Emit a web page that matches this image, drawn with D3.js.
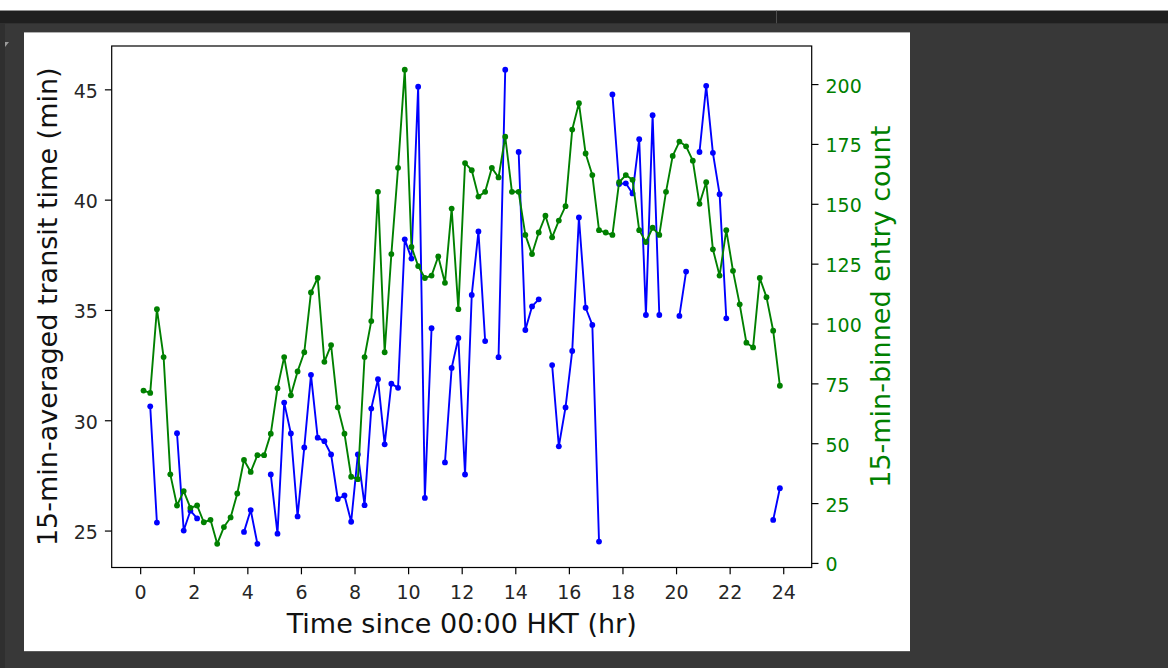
<!DOCTYPE html>
<html><head><meta charset="utf-8">
<script src="https://cdn.jsdelivr.net/npm/d3@7"></script>
<style>html,body{margin:0;padding:0;background:#383838;overflow:hidden}</style>
</head><body>
<svg id="c" width="1168" height="668"></svg>
<script>
// ---- data (15-min bins, bin centres in hours) ----
const hours = [0.125,0.375,0.625,0.875,1.125,1.375,1.625,1.875,2.125,2.375,2.625,2.875,
3.125,3.375,3.625,3.875,4.125,4.375,4.625,4.875,5.125,5.375,5.625,5.875,
6.125,6.375,6.625,6.875,7.125,7.375,7.625,7.875,8.125,8.375,8.625,8.875,
9.125,9.375,9.625,9.875,10.125,10.375,10.625,10.875,11.125,11.375,11.625,11.875,
12.125,12.375,12.625,12.875,13.125,13.375,13.625,13.875,14.125,14.375,14.625,14.875,
15.125,15.375,15.625,15.875,16.125,16.375,16.625,16.875,17.125,17.375,17.625,17.875,
18.125,18.375,18.625,18.875,19.125,19.375,19.625,19.875,20.125,20.375,20.625,20.875,
21.125,21.375,21.625,21.875,22.125,22.375,22.625,22.875,23.125,23.375,23.625,23.875];

const transitTime = [null,30.63,25.36,null,null,29.41,25.0,25.9,25.55,null,null,null,
null,null,null,24.94,25.93,24.4,null,27.54,24.86,30.8,29.4,25.64,
28.77,32.06,29.21,29.05,28.45,26.43,26.59,25.4,28.45,26.15,30.53,31.86,
28.91,31.66,31.47,38.2,37.33,45.12,26.48,34.17,null,28.09,32.37,33.73,
27.54,35.68,38.56,33.59,null,32.86,45.89,null,42.16,34.09,35.16,35.48,
null,32.5,28.82,30.58,33.14,39.19,35.1,34.32,24.5,null,44.77,40.71,
40.74,40.28,42.74,34.77,43.83,34.77,null,null,34.73,36.74,null,42.16,
45.16,42.12,40.25,34.62,null,null,null,null,null,null,25.48,26.92];

const entryCount = [72,71,106,86,37,24,30,23,24,17,18,8,
15,19,29,43,38,45,45,54,73,86,70,80,
88,113,119,84,91,65,54,36,35,86,101,155,
88,129,165,206,132,124,119,120,128,117,148,106,
167,164,153,155,165,161,178,155,155,137,129,138,
145,136,143,149,181,192,171,162,139,138,137,159,
162,160,139,134,140,137,155,170,176,174,168,150,
159,131,120,139,122,108,92,90,119,111,97,74];

const xTicks = [0,2,4,6,8,10,12,14,16,18,20,22,24];
const leftTicks = [25,30,35,40,45];
const rightTicks = [0,25,50,75,100,125,150,175,200];

const xLabel = "Time since 00:00 HKT (hr)";
const leftLabel = "15-min-averaged transit time (min)";
const rightLabel = "15-min-binned entry count";

// ---- page chrome ----
const svg = d3.select('#c');
svg.append('rect').attr('x',0).attr('y',0).attr('width',1168).attr('height',668).attr('fill','#383838');
svg.append('rect').attr('x',0).attr('y',0).attr('width',1168).attr('height',10.7).attr('fill','#ffffff');
svg.append('rect').attr('x',0).attr('y',10.7).attr('width',1168).attr('height',12.6).attr('fill','#1f1f1f');
svg.append('rect').attr('x',776).attr('y',10.7).attr('width',1).attr('height',12.6).attr('fill','#4e4e4e');
svg.append('rect').attr('x',0).attr('y',23.3).attr('width',5).attr('height',645).attr('fill','#2f2f2f');
svg.append('path').attr('d','M5,42 L9,42 L5,47 Z').attr('fill','#9a9a9a');
svg.append('rect').attr('x',24).attr('y',32.4).attr('width',886).attr('height',618.6).attr('fill','#ffffff');
svg.append('rect').attr('x',24).attr('y',651).attr('width',886).attr('height',1).attr('fill','#5c5c5c');

// ---- axes geometry ----
const L = 111.7, R = 811.7, T = 46, B = 567.5;
const font = 'DejaVu Sans, Verdana, sans-serif';
const tickFs = 19, labFs = 27;

const xMin = d3.min(hours), xMax = d3.max(hours), xPad = (xMax - xMin) * 0.05;
const x = d3.scaleLinear().domain([xMin - xPad, xMax + xPad]).range([L, R]);
const tv = transitTime.filter(v => v != null);
const lMin = d3.min(tv), lMax = d3.max(tv), lPad = (lMax - lMin) * 0.05;
const yL = d3.scaleLinear().domain([lMin - lPad, lMax + lPad]).range([B, T]);
const cMin = d3.min(entryCount), cMax = d3.max(entryCount), cPad = (cMax - cMin) * 0.05;
const yR = d3.scaleLinear().domain([cMin - cPad, cMax + cPad]).range([B, T]);

const tickLen = 6.8;

function style(g, color) {
  g.select('.domain').remove();
  g.selectAll('.tick line').attr('stroke', '#000').attr('stroke-width', 1.2);
  g.selectAll('.tick text').attr('fill', color).attr('font-family', font).attr('font-size', tickFs);
}

const gx = svg.append('g').attr('transform', `translate(0,${B})`)
  .call(d3.axisBottom(x).tickValues(xTicks).tickSize(tickLen).tickPadding(11.5).tickFormat(d3.format('d')));
style(gx, '#262626');

const gl = svg.append('g').attr('transform', `translate(${L},0)`)
  .call(d3.axisLeft(yL).tickValues(leftTicks).tickSize(tickLen).tickPadding(7).tickFormat(d3.format('d')));
style(gl, '#262626');
gl.selectAll('.tick text').attr('dy', '0.42em');

const gr = svg.append('g').attr('transform', `translate(${R},0)`)
  .call(d3.axisRight(yR).tickValues(rightTicks).tickSize(tickLen).tickPadding(7).tickFormat(d3.format('d')));
style(gr, '#008000');
gr.selectAll('.tick text').attr('dy', '0.42em');

// ---- data ----
const clip = svg.append('clipPath').attr('id','plotclip').append('rect')
  .attr('x', L).attr('y', T).attr('width', R - L).attr('height', B - T);

const blueLine = d3.line().defined((d, i) => transitTime[i] != null)
  .x((d, i) => x(hours[i])).y((d, i) => yL(transitTime[i]));
svg.append('path').datum(transitTime).attr('d', blueLine)
  .attr('fill', 'none').attr('stroke', '#0000ff').attr('stroke-width', 1.9)
  .attr('stroke-linejoin', 'round').attr('stroke-linecap', 'round');
svg.append('g').selectAll('circle')
  .data(hours.map((h, i) => ({h, v: transitTime[i]})).filter(d => d.v != null))
  .join('circle').attr('cx', d => x(d.h)).attr('cy', d => yL(d.v)).attr('r', 2.9).attr('fill', '#0000ff');

const greenLine = d3.line().x((d, i) => x(hours[i])).y(d => yR(d));
svg.append('path').datum(entryCount).attr('d', greenLine)
  .attr('fill', 'none').attr('stroke', '#008000').attr('stroke-width', 1.9)
  .attr('stroke-linejoin', 'round').attr('stroke-linecap', 'round');
svg.append('g').selectAll('circle')
  .data(hours.map((h, i) => ({h, v: entryCount[i]})))
  .join('circle').attr('cx', d => x(d.h)).attr('cy', d => yR(d.v)).attr('r', 2.9).attr('fill', '#008000');

// ---- frame ----
svg.append('rect').attr('x', L).attr('y', T).attr('width', R - L).attr('height', B - T)
  .attr('fill', 'none').attr('stroke', '#000').attr('stroke-width', 1.2);

// ---- labels ----
svg.append('text').attr('x', (L + R) / 2).attr('y', 632.5).attr('text-anchor', 'middle')
  .attr('font-family', font).attr('font-size', labFs).attr('fill', '#111').text(xLabel);
svg.append('text').attr('transform', `translate(57,${(T + B) / 2}) rotate(-90)`).attr('text-anchor', 'middle')
  .attr('font-family', font).attr('font-size', labFs).attr('fill', '#111').text(leftLabel);
svg.append('text').attr('transform', `translate(890,${(T + B) / 2}) rotate(-90)`).attr('text-anchor', 'middle')
  .attr('font-family', font).attr('font-size', labFs).attr('fill', '#008000').text(rightLabel);
</script>
</body></html>
